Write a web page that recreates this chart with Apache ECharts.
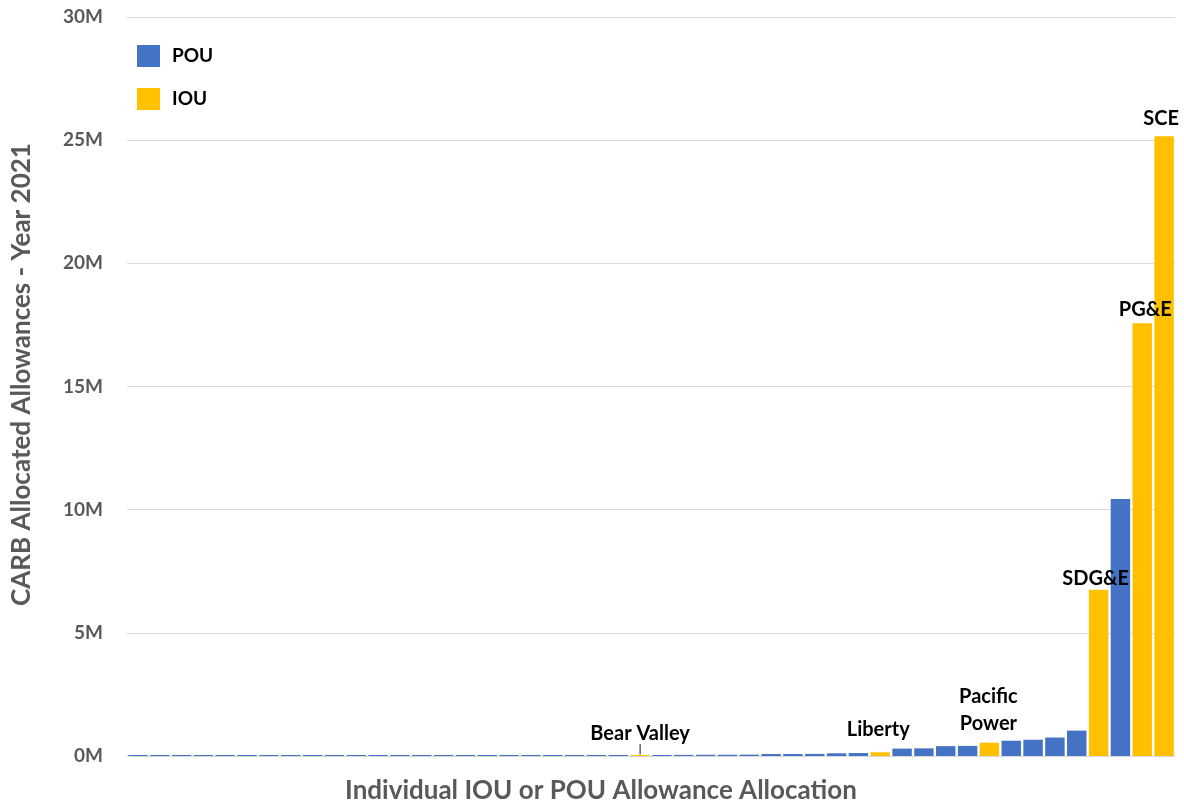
<!DOCTYPE html>
<html>
<head>
<meta charset="utf-8">
<script src="https://cdn.jsdelivr.net/npm/echarts@6/dist/echarts.min.js"></script>
<style>
html,body{margin:0;padding:0;background:#fff;}
#chart{width:1184px;height:806px;}
</style>
</head>
<body>
<div id="chart"></div>
<script>
// ---- data (allowances in millions) ----
const categories = [
  'U01','U02','U03','U04','U05','U06','U07','U08','U09','U10',
  'U11','U12','U13','U14','U15','U16','U17','U18','U19','U20',
  'U21','U22','U23','Bear Valley','U25','U26','U27','U28','U29','U30',
  'U31','U32','U33','U34','Liberty','U36','U37','U38','U39','Pacific Power',
  'U41','U42','U43','U44','SDG&E','U46','PG&E','SCE'
];
const values = [
  0.02,0.02,0.02,0.02,0.02,0.02,0.02,0.02,0.02,0.02,
  0.02,0.02,0.02,0.025,0.025,0.025,0.025,0.03,0.03,0.03,
  0.03,0.03,0.035,0.04,0.04,0.045,0.05,0.05,0.055,0.08,
  0.08,0.085,0.11,0.12,0.15,0.30,0.31,0.40,0.41,0.54,
  0.62,0.66,0.75,1.03,6.75,10.43,17.57,25.16
];
const utilityType = [
  'POU','POU','POU','POU','POU','POU','POU','POU','POU','POU',
  'POU','POU','POU','POU','POU','POU','POU','POU','POU','POU',
  'POU','POU','POU','IOU','POU','POU','POU','POU','POU','POU',
  'POU','POU','POU','POU','IOU','POU','POU','POU','POU','IOU',
  'POU','POU','POU','POU','IOU','POU','IOU','IOU'
];
const labelledUtilities = ['Bear Valley','Liberty','Pacific Power','SDG&E','PG&E','SCE'];
const yTicks = [0,5,10,15,20,25,30];

// ---- styling ----
const FONT = 'Lato, "Open Sans", sans-serif';
const colors = {POU:'#4472C4', IOU:'#FFC000'};
const labelStyle = {
  'Bear Valley': {distance:0, formatter:'{n|Bear Valley}\n{t||}', offset:[0,0]},
  'Liberty': {distance:9, formatter:'Liberty', offset:[-2,0]},
  'Pacific Power': {distance:6, formatter:'Pacific\nPower', offset:[-1,0]},
  'SDG&E': {distance:0, formatter:'SDG&E', offset:[-3,2]},
  'PG&E': {distance:0, formatter:'PG&E', offset:[3,0]},
  'SCE': {distance:4, formatter:'SCE', offset:[-3,0]}
};

function buildSeriesData(type){
  return values.map((v,i)=>{
    if(utilityType[i]!==type) return '-';
    const name = categories[i];
    const item = {value:v};
    if(labelledUtilities.includes(name)){
      const s = labelStyle[name];
      item.label = {
        show:true, position:'top', distance:s.distance, offset:s.offset,
        formatter:s.formatter, color:'#000', fontFamily:FONT, fontWeight:'bold',
        fontSize:20, lineHeight:27,
        rich:{
          n:{fontFamily:FONT,fontWeight:'bold',fontSize:20,color:'#000',lineHeight:20},
          t:{fontFamily:'DejaVu Sans',fontWeight:'normal',fontSize:11,color:'#000',lineHeight:11}
        }
      };
    }
    return item;
  });
}

const chart = echarts.init(document.getElementById('chart'), null, {renderer:'canvas'});
chart.setOption({
  animation:false,
  backgroundColor:'#fff',
  grid:{left:127, right:9, top:17, bottom:50, containLabel:false, outerBoundsMode:'none'},
  legend:{
    orient:'vertical', left:137, top:45, padding:0,
    itemWidth:23, itemHeight:22, itemGap:21,
    icon:'rect',
    textStyle:{fontFamily:FONT, fontWeight:'bold', fontSize:19, color:'#000', padding:[0,0,0,7]},
    data:['POU','IOU']
  },
  xAxis:{
    type:'category', data:categories,
    axisLine:{show:true, lineStyle:{color:'#d9d9d9', width:1}},
    axisTick:{show:false}, axisLabel:{show:false},
    name:'Individual IOU or POU Allowance Allocation',
    nameLocation:'middle', nameGap:22,
    nameTextStyle:{fontFamily:FONT, fontWeight:'bold', fontSize:26, color:'#595959', padding:[0,100,0,0]}
  },
  yAxis:{
    type:'value', min:yTicks[0], max:yTicks[yTicks.length-1], interval:yTicks[1]-yTicks[0],
    axisLine:{show:false}, axisTick:{show:false},
    splitLine:{lineStyle:{color:'#d9d9d9', width:1}},
    axisLabel:{formatter:v=>v+'M', fontFamily:FONT, fontWeight:'bold', fontSize:19, color:'#595959', margin:24},
    name:'CARB Allocated Allowances - Year 2021',
    nameLocation:'middle', nameGap:92, nameRotate:90,
    nameTextStyle:{fontFamily:FONT, fontWeight:'bold', fontSize:26, color:'#595959', padding:[0,0,0,24]}
  },
  series:[
    {name:'POU', type:'bar', stack:'all', data:buildSeriesData('POU'),
     itemStyle:{color:colors.POU}, barCategoryGap:'11%', barMinHeight:1},
    {name:'IOU', type:'bar', stack:'all', data:buildSeriesData('IOU'),
     itemStyle:{color:colors.IOU}, barCategoryGap:'11%', barMinHeight:1}
  ]
});
</script>
</body>
</html>
